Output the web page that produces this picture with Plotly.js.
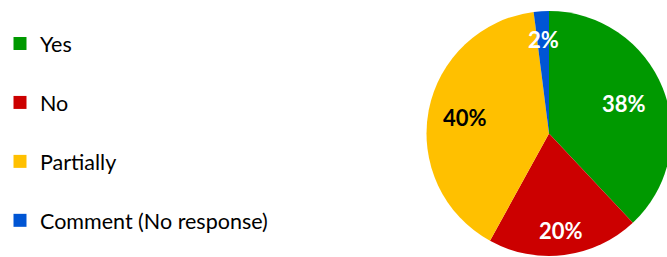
<!DOCTYPE html>
<html><head><meta charset="utf-8">
<script src="https://cdn.plot.ly/plotly-3.0.1.min.js"></script>
<style>html,body{margin:0;padding:0;overflow:hidden;background:#fff}#c{width:680px;height:257px}</style>
</head><body><div id="c"></div>
<script>
const labels = ["Yes", "No", "Partially", "Comment (No response)"];
const values = [38, 20, 40, 2];
const colors = ["#009900", "#CC0000", "#FFC000", "#0055D4"];
const textColors = ["#FFFFFF", "#FFFFFF", "#000000", "#FFFFFF"];
// label placement (fraction of radius along slice bisector) - layout only
const labelRadius = [0.66, 0.80, 0.70, 0.77];

const W = 680, H = 257, MT = 11, MB = 1;
const plotH = H - MT - MB;
const R = plotH / 2, CX = 549, CY = MT + R;

const traces = [{
  type: "pie",
  labels: labels,
  values: values,
  sort: false,
  direction: "clockwise",
  rotation: 0,
  marker: {colors: colors, line: {width: 0}},
  textinfo: "none",
  showlegend: false,
  hoverinfo: "none",
  domain: {x: [(CX - R) / W, (CX + R) / W], y: [0, 1]}
}];
labels.forEach((l, i) => {
  traces.push({
    type: "scatter", mode: "markers", x: [null], y: [null], name: l,
    legendgroup: "g" + i,
    marker: {symbol: "square", size: 13, color: colors[i]},
    showlegend: true, hoverinfo: "none"
  });
});

const total = values.reduce((a, b) => a + b, 0);
let cum = 0;
const annotations = values.map((v, i) => {
  const th = 2 * Math.PI * (cum + v / 2) / total;
  cum += v;
  const px = CX + R * labelRadius[i] * Math.sin(th);
  const py = CY - R * labelRadius[i] * Math.cos(th);
  return {
    xref: "paper", yref: "paper", x: px / W, y: (H - MB - py) / plotH,
    xanchor: "center", yanchor: "middle", showarrow: false,
    text: "<b>" + Math.round(v / total * 100) + "%</b>",
    font: {family: "Lato", size: 22, color: textColors[i]}
  };
});

Plotly.newPlot("c", traces, {
  width: W, height: H,
  margin: {l: 0, r: 0, t: MT, b: MB},
  paper_bgcolor: "#fff", plot_bgcolor: "#fff",
  xaxis: {visible: false}, yaxis: {visible: false},
  showlegend: true,
  annotations: annotations,
  legend: {x: 0, xanchor: "left", y: 0.951, yanchor: "top", tracegroupgap: 28,
    font: {family: "Lato", size: 21.5, color: "#000"}, bgcolor: "rgba(0,0,0,0)"}
}, {staticPlot: true});
</script></body></html>
